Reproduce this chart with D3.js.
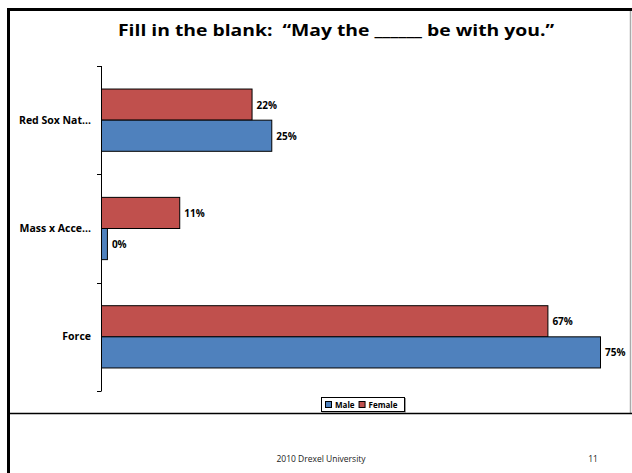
<!DOCTYPE html>
<html><head><meta charset="utf-8">
<script src="https://cdn.jsdelivr.net/npm/d3@7"></script>
<style>body{margin:0;background:#fff}svg{display:block}text{font-family:"Open Sans","Liberation Sans",sans-serif;white-space:pre}</style>
</head><body>
<svg id="c" width="632" height="473"></svg>
<script>
const categories = ["Red Sox Nat...", "Mass x Acce...", "Force"];
const seriesNames = ["Female", "Male"];
const femaleValues = [0.22, 0.11, 0.67];
const maleValues = [0.25, 0.0, 0.75];
const titleText = "Fill in the blank:  \u201CMay the ______ be with you.\u201D";
const footerText = "2010 Drexel University";
const pageNumber = "11";
const colors = {Male: "#4F81BD", Female: "#C0504D"};

const svg = d3.select("#c");
// frame
svg.append("rect").attr("x",0).attr("y",0).attr("width",632).attr("height",473).attr("fill","#fff");
svg.append("line").attr("x1",630.5).attr("x2",630.5).attr("y1",11).attr("y2",414).attr("stroke","#aaa").attr("stroke-width",1.5);
svg.append("line").attr("x1",9).attr("x2",632).attr("y1",413.5).attr("y2",413.5).attr("stroke","#000").attr("stroke-width",1.5);
svg.append("line").attr("x1",7).attr("x2",632).attr("y1",9.5).attr("y2",9.5).attr("stroke","#000").attr("stroke-width",3);
svg.append("line").attr("x1",8.5).attr("x2",8.5).attr("y1",8).attr("y2",473).attr("stroke","#000").attr("stroke-width",3);

const title = svg.append("text").attr("x",336).attr("y",36).attr("text-anchor","middle")
  .attr("font-size",16.5).attr("font-weight","bold").text(titleText);
// fit to reference title width
const tw = title.node().getComputedTextLength();
title.attr("textLength", 436).attr("lengthAdjust","spacingAndGlyphs");

const x = d3.scaleLinear().domain([-0.009, 0.75]).range([101, 600]);
const y = d3.scaleBand().domain(categories).range([66, 391]).paddingInner(0).paddingOuter(0);
const inner = d3.scaleBand().domain(seriesNames).range([0, y.bandwidth()]).paddingInner(0).paddingOuter(0.74);

const rows = categories.map((c,i)=>({cat:c, Female:femaleValues[i], Male:maleValues[i]}));
const fmt = d3.format(".0%");
const g = svg.append("g");
rows.forEach(r=>{
  seriesNames.forEach(s=>{
    const y0 = y(r.cat)+inner(s);
    g.append("rect").attr("x",x.range()[0]+0.5).attr("y",y0)
      .attr("width",Math.max(0,x(r[s])-x.range()[0])).attr("height",inner.bandwidth())
      .attr("fill",colors[s]).attr("stroke","#000").attr("stroke-width",1);
    g.append("text").attr("x",x(r[s])+5).attr("y",y0+inner.bandwidth()/2+4)
      .attr("font-size",10).attr("font-weight","bold").attr("fill","#000").text(fmt(r[s]));
  });
});

// category axis
const ax = svg.append("g").attr("transform","translate(101,0)")
  .call(d3.axisLeft(y).tickSize(0).tickPadding(10));
ax.select(".domain").remove();
ax.selectAll("text").attr("font-size",10.5).attr("font-weight","bold").attr("fill","#000")
  .style("font-family",'"Open Sans","Liberation Sans",sans-serif');
const tickYs = categories.map(c=>y(c)).concat([y.range()[1]]);
svg.append("line").attr("x1",101.5).attr("x2",101.5).attr("y1",66).attr("y2",391).attr("stroke","#000");
tickYs.forEach(t=>svg.append("line").attr("x1",97).attr("x2",101.5).attr("y1",Math.round(t)+0.5).attr("y2",Math.round(t)+0.5).attr("stroke","#000"));

// legend
const lg = svg.append("g").attr("transform","translate(321,397)");
lg.append("rect").attr("x",1).attr("y",1).attr("width",84).attr("height",15).attr("fill","#999");
lg.append("rect").attr("x",0.5).attr("y",0.5).attr("width",83).attr("height",14).attr("fill","#fff").attr("stroke","#000");
const legItems = ["Male","Female"];
let lx = 4;
legItems.forEach(s=>{
  lg.append("rect").attr("x",lx+0.5).attr("y",4.5).attr("width",6).attr("height",6).attr("fill",colors[s]).attr("stroke","#000");
  const t = lg.append("text").attr("x",lx+10).attr("y",11).attr("font-size",8).attr("font-weight","bold").text(s);
  lx += 10 + t.node().getComputedTextLength() + 4;
});

svg.append("text").attr("x",321).attr("y",462).attr("text-anchor","middle").attr("font-size",8.5).attr("fill","#222").text(footerText);
svg.append("text").attr("x",593).attr("y",462).attr("text-anchor","middle").attr("font-size",8.5).attr("fill","#222").text(pageNumber);
</script>
</body></html>
